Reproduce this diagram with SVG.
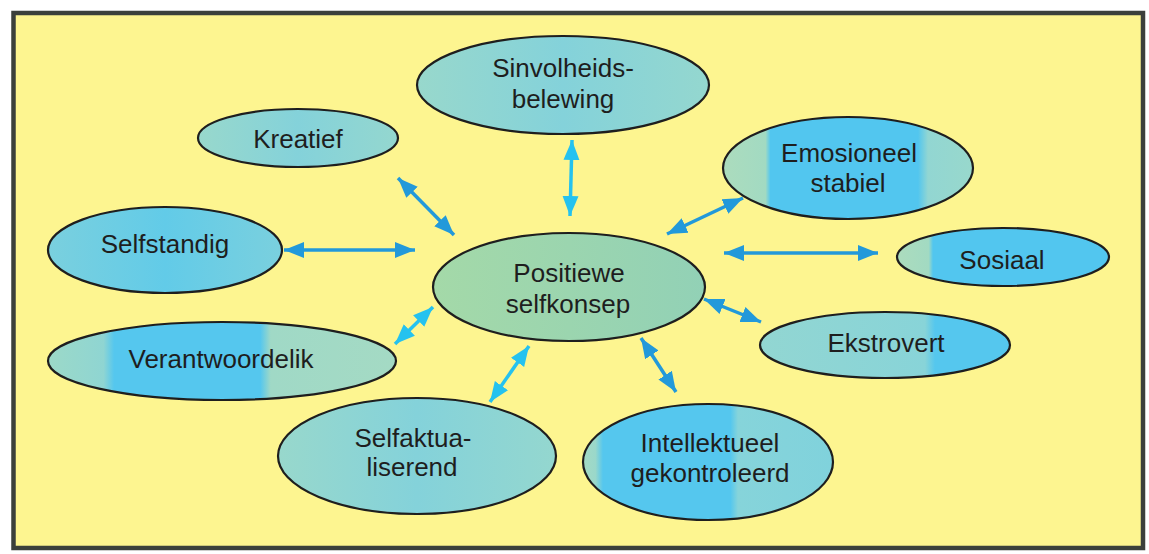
<svg xmlns="http://www.w3.org/2000/svg" width="1149" height="554" viewBox="0 0 1149 554">
  <style>
    .node ellipse { stroke: #1e1e1e; stroke-width: 2.2; }
    .node text { font-family: "Liberation Sans", Arial, sans-serif; font-size: 26px; fill: #1e1e1e; text-anchor: middle; }
    .dark { stroke: #2299da; stroke-width: 3.5; fill: none; marker-start: url(#headDark); marker-end: url(#headDark); }
    .light { stroke: #25c2ef; stroke-width: 3.5; fill: none; marker-start: url(#headLight); marker-end: url(#headLight); }
  </style>
  <defs>
    <marker id="headDark" markerUnits="userSpaceOnUse" markerWidth="20" markerHeight="18" viewBox="0 0 20 18" refX="20" refY="9" orient="auto-start-reverse">
      <path d="M0,1 L20,9 L0,17 z" fill="#2299da"/>
    </marker>
    <marker id="headLight" markerUnits="userSpaceOnUse" markerWidth="20" markerHeight="18" viewBox="0 0 20 18" refX="20" refY="9" orient="auto-start-reverse">
      <path d="M0,1 L20,9 L0,17 z" fill="#25c2ef"/>
    </marker>
    <linearGradient id="gTex" x1="0" y1="0" x2="1" y2="0">
      <stop offset="0" stop-color="#98d8cc"/>
      <stop offset="0.5" stop-color="#84d2da"/>
      <stop offset="1" stop-color="#94d7cf"/>
    </linearGradient>
    <linearGradient id="gCenter" x1="0" y1="0" x2="1" y2="0">
      <stop offset="0" stop-color="#a4d9a8"/>
      <stop offset="1" stop-color="#92d1b6"/>
    </linearGradient>
    <linearGradient id="gSelfstandig" x1="0" y1="0" x2="1" y2="0">
      <stop offset="0" stop-color="#7ad0de"/>
      <stop offset="0.5" stop-color="#62cbe8"/>
      <stop offset="1" stop-color="#7ad0de"/>
    </linearGradient>
    <linearGradient id="gVerant" x1="0" y1="0" x2="1" y2="0">
      <stop offset="0" stop-color="#9cd9c8"/>
      <stop offset="0.16" stop-color="#8fd5d2"/>
      <stop offset="0.19" stop-color="#55c7ee"/>
      <stop offset="0.61" stop-color="#55c7ee"/>
      <stop offset="0.64" stop-color="#a0d9c6"/>
      <stop offset="1" stop-color="#a4dac4"/>
    </linearGradient>
    <linearGradient id="gIntel" x1="0" y1="0" x2="1" y2="0">
      <stop offset="0" stop-color="#a4dac4"/>
      <stop offset="0.05" stop-color="#9ad8ca"/>
      <stop offset="0.08" stop-color="#55c7ee"/>
      <stop offset="0.59" stop-color="#55c7ee"/>
      <stop offset="0.62" stop-color="#86d4da"/>
      <stop offset="1" stop-color="#80d2dc"/>
    </linearGradient>
    <linearGradient id="gEkstro" x1="0" y1="0" x2="1" y2="0">
      <stop offset="0" stop-color="#92d6d2"/>
      <stop offset="0.66" stop-color="#88d4d8"/>
      <stop offset="0.70" stop-color="#55c7ee"/>
      <stop offset="1" stop-color="#55c7ee"/>
    </linearGradient>
    <linearGradient id="gSosiaal" x1="0" y1="0" x2="1" y2="0">
      <stop offset="0" stop-color="#acdcbd"/>
      <stop offset="0.15" stop-color="#a2dac2"/>
      <stop offset="0.17" stop-color="#52c6ef"/>
      <stop offset="1" stop-color="#52c6ef"/>
    </linearGradient>
    <linearGradient id="gEmo" x1="0" y1="0" x2="1" y2="0">
      <stop offset="0" stop-color="#acdcbd"/>
      <stop offset="0.17" stop-color="#a2dac2"/>
      <stop offset="0.19" stop-color="#52c6ef"/>
      <stop offset="0.78" stop-color="#52c6ef"/>
      <stop offset="0.82" stop-color="#92d6d2"/>
      <stop offset="1" stop-color="#98d8cc"/>
    </linearGradient>
  </defs>

  <rect x="0" y="0" width="1149" height="554" fill="#ffffff"/>
  <rect x="13.5" y="13" width="1129.5" height="535" fill="#fdf590" stroke="#3b403b" stroke-width="4.5"/>

  <g id="connectors">
    <line class="dark" x1="398" y1="178" x2="454" y2="235"/>
    <line class="dark" x1="284" y1="250" x2="415" y2="250"/>
    <line class="light" x1="572" y1="140" x2="570" y2="216"/>
    <line class="dark" x1="743" y1="198" x2="667" y2="234"/>
    <line class="dark" x1="724" y1="253" x2="878" y2="253"/>
    <line class="dark" x1="704" y1="299" x2="761" y2="322"/>
    <line class="dark" x1="641" y1="338" x2="676" y2="392"/>
    <line class="light" x1="529" y1="346" x2="490" y2="402"/>
    <line class="light" x1="433" y1="307" x2="395" y2="344"/>
  </g>

  <g id="node-sinvolheids" class="node">
    <ellipse cx="563" cy="85" rx="146" ry="49" fill="url(#gTex)"/>
    <text x="563" y="77">Sinvolheids-</text>
    <text x="563" y="108">belewing</text>
  </g>

  <g id="node-kreatief" class="node">
    <ellipse cx="298" cy="138" rx="100" ry="29" fill="url(#gTex)"/>
    <text x="298" y="148">Kreatief</text>
  </g>

  <g id="node-emosioneel" class="node">
    <ellipse cx="848" cy="168" rx="125" ry="51" fill="url(#gEmo)"/>
    <text x="849" y="162">Emosioneel</text>
    <text x="848" y="192">stabiel</text>
  </g>

  <g id="node-selfstandig" class="node">
    <ellipse cx="165" cy="250" rx="117" ry="43" fill="url(#gSelfstandig)"/>
    <text x="165" y="253">Selfstandig</text>
  </g>

  <g id="node-sosiaal" class="node">
    <ellipse cx="1003" cy="257" rx="106" ry="29" fill="url(#gSosiaal)"/>
    <text x="1002" y="269">Sosiaal</text>
  </g>

  <g id="node-positiewe" class="node">
    <ellipse cx="569" cy="287" rx="136" ry="54" fill="url(#gCenter)"/>
    <text x="569" y="282">Positiewe</text>
    <text x="568" y="313">selfkonsep</text>
  </g>

  <g id="node-ekstrovert" class="node">
    <ellipse cx="885" cy="345" rx="125" ry="33" fill="url(#gEkstro)"/>
    <text x="886" y="352">Ekstrovert</text>
  </g>

  <g id="node-verantwoordelik" class="node">
    <ellipse cx="222" cy="361" rx="174" ry="39" fill="url(#gVerant)"/>
    <text x="221" y="368">Verantwoordelik</text>
  </g>

  <g id="node-selfaktualiserend" class="node">
    <ellipse cx="417" cy="456" rx="139" ry="58" fill="url(#gTex)"/>
    <text x="413" y="447">Selfaktua-</text>
    <text x="412" y="476">liserend</text>
  </g>

  <g id="node-intellektueel" class="node">
    <ellipse cx="708" cy="462" rx="125" ry="58" fill="url(#gIntel)"/>
    <text x="710" y="452">Intellektueel</text>
    <text x="710" y="482">gekontroleerd</text>
  </g>
</svg>
